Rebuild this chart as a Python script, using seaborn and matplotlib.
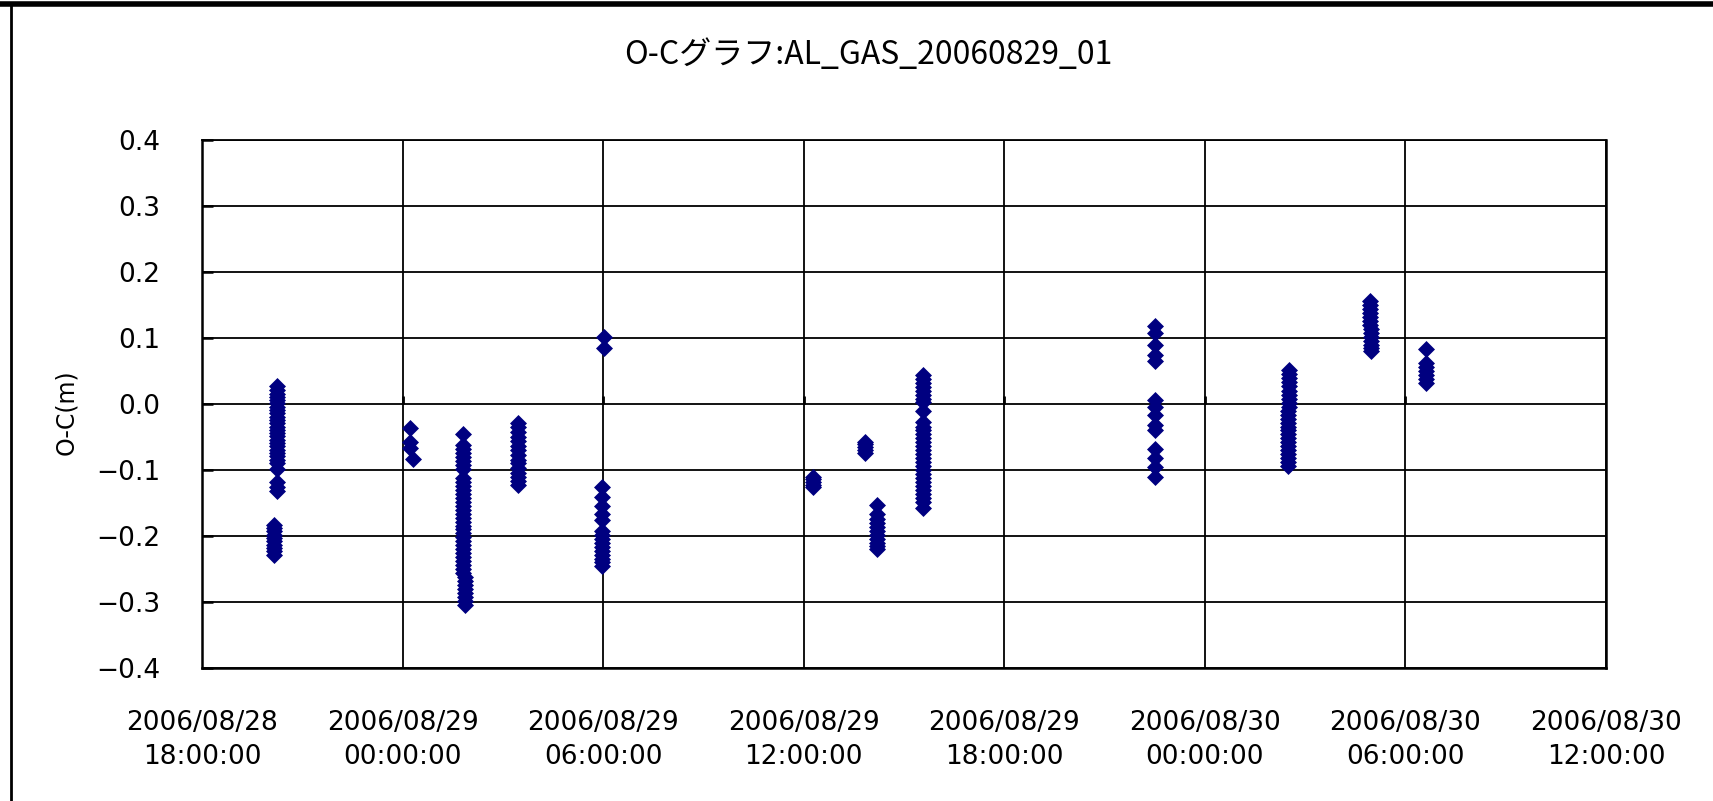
import matplotlib
matplotlib.use("Agg")
import matplotlib.pyplot as plt
from matplotlib.lines import Line2D
import seaborn as sns
import pandas as pd

# O-C values (m), grouped by observation time
times = [
    "2006-08-28 20:15", "2006-08-28 20:09",
    "2006-08-29 00:13", "2006-08-29 00:18",
    "2006-08-29 01:49", "2006-08-29 01:53",
    "2006-08-29 03:28",
    "2006-08-29 06:01", "2006-08-29 05:58",
    "2006-08-29 12:16",
    "2006-08-29 13:50",
    "2006-08-29 14:12",
    "2006-08-29 15:35",
    "2006-08-29 22:30",
    "2006-08-30 02:31", "2006-08-30 02:29",
    "2006-08-30 04:56", "2006-08-30 04:58",
    "2006-08-30 06:37",
]
values = [
    [0.027, 0.021, 0.016, 0.011, 0.006, 0.001, -0.004, -0.009, -0.014, -0.019,
     -0.024, -0.029, -0.034, -0.039, -0.044, -0.049, -0.054, -0.059, -0.064,
     -0.069, -0.074, -0.079, -0.084, -0.089, -0.098, -0.118, -0.125, -0.132],
    [-0.183, -0.188, -0.193, -0.198, -0.203, -0.208, -0.213, -0.218, -0.223, -0.228],
    [-0.036, -0.058, -0.066],
    [-0.083],
    [-0.046, -0.062, -0.068, -0.074, -0.080, -0.086, -0.092, -0.098, -0.112,
     -0.118, -0.124, -0.130, -0.136, -0.142, -0.148, -0.154, -0.160, -0.166,
     -0.172, -0.178, -0.184, -0.190, -0.196, -0.202, -0.208, -0.214, -0.220,
     -0.226, -0.232, -0.238, -0.244, -0.250, -0.256],
    [-0.262, -0.268, -0.274, -0.280, -0.286, -0.292, -0.298, -0.304],
    [-0.029, -0.035, -0.042, -0.050, -0.056, -0.063, -0.070, -0.077, -0.084,
     -0.090, -0.097, -0.104, -0.110, -0.116, -0.122],
    [0.101, 0.085],
    [-0.125, -0.141, -0.154, -0.167, -0.176, -0.192, -0.198, -0.204, -0.210,
     -0.216, -0.222, -0.228, -0.234, -0.240, -0.246],
    [-0.110, -0.114, -0.118, -0.122, -0.126],
    [-0.057, -0.061, -0.065, -0.070, -0.074],
    [-0.153, -0.166, -0.174, -0.180, -0.186, -0.192, -0.198, -0.204, -0.210,
     -0.215, -0.219],
    [0.044, 0.038, 0.032, 0.026, 0.020, 0.014, 0.008, 0.003, -0.011, -0.027,
     -0.034, -0.040, -0.046, -0.052, -0.058, -0.064, -0.070, -0.076, -0.082,
     -0.088, -0.094, -0.100, -0.106, -0.112, -0.118, -0.124, -0.130, -0.136,
     -0.142, -0.148, -0.157],
    [0.119, 0.108, 0.089, 0.074, 0.066, 0.006, -0.004, -0.017, -0.031, -0.039,
     -0.068, -0.082, -0.095, -0.111],
    [0.051, 0.045, 0.039, 0.033, 0.027, 0.020, 0.014, 0.008, 0.002, -0.004],
    [-0.010, -0.016, -0.022, -0.028, -0.034, -0.040, -0.046, -0.052, -0.058,
     -0.064, -0.070, -0.076, -0.082, -0.088, -0.094],
    [0.156, 0.150, 0.144, 0.138, 0.132, 0.126, 0.120],
    [0.114, 0.108, 0.102, 0.096, 0.090, 0.085, 0.080],
    [0.083, 0.062, 0.056, 0.050, 0.044, 0.038, 0.032],
]

xtick_labels = [
    "2006/08/28\n18:00:00", "2006/08/29\n00:00:00", "2006/08/29\n06:00:00",
    "2006/08/29\n12:00:00", "2006/08/29\n18:00:00", "2006/08/30\n00:00:00",
    "2006/08/30\n06:00:00", "2006/08/30\n12:00:00",
]
ytick_values = [-0.4, -0.3, -0.2, -0.1, 0.0, 0.1, 0.2, 0.3, 0.4]
ytick_labels = ["\u22120.4", "\u22120.3", "\u22120.2", "\u22120.1", "0.0",
                "0.1", "0.2", "0.3", "0.4"]

title = "O-Cグラフ:AL_GAS_20060829_01"
ylabel = "O-C(m)"

rows = []
for t, vals in zip(times, values):
    for v in vals:
        rows.append({"time": pd.Timestamp(t), "oc": v})
df = pd.DataFrame(rows)

sns.set_theme(style="white")
plt.rcParams["font.family"] = ["DejaVu Sans"]
plt.rcParams["text.color"] = "black"

fig = plt.figure(figsize=(17.13, 8.01), dpi=100)
ax = fig.add_axes([0.1179, 0.166, 0.8196, 0.659])

sns.scatterplot(data=df, x="time", y="oc", marker="D", color="#000080",
                s=75, linewidth=0, ax=ax, legend=False, zorder=3)

xticks = [pd.Timestamp(lbl.replace("\n", " ").replace("/", "-")) for lbl in xtick_labels]
ax.set_xlim(xticks[0], xticks[-1])
ax.set_xticks(xticks)
ax.set_xticklabels(xtick_labels, linespacing=1.4)
ax.set_ylim(-0.4, 0.4)
ax.set_yticks(ytick_values)
ax.set_yticklabels(ytick_labels)

ax.grid(True, color="black", linewidth=1.3)
ax.set_axisbelow(True)
for s in ax.spines.values():
    s.set_color("black")
    s.set_linewidth(1.8)
ax.spines["top"].set_linewidth(1.3)

ax.tick_params(axis="y", direction="in", length=8, width=1.8, pad=30,
               labelsize=19, colors="black", left=True)
ax.tick_params(axis="x", length=0, pad=30, labelsize=19, colors="black")

# small tick stubs where the category axis crosses at 0.0
ax.vlines(xticks[1:-1], 0, 0.012, color="black", linewidth=2, zorder=2)

ax.set_xlabel("")
ax.set_ylabel("")

fig.text(0.507, 0.931, title, ha="center", va="center", fontsize=23,
         color="black", family=["Noto Sans CJK JP", "DejaVu Sans"])
fig.text(0.0385, 0.486, ylabel, ha="center", va="center", rotation=90,
         fontsize=17, color="black")

# page frame around the chart
fig.add_artist(Line2D([0.0064, 0.0064], [0, 0.995], color="black", linewidth=2,
                      transform=fig.transFigure))
fig.add_artist(Line2D([0, 1], [0.995, 0.995], color="black", linewidth=4,
                      transform=fig.transFigure))

fig.savefig("out.png", dpi=100, facecolor="white")
